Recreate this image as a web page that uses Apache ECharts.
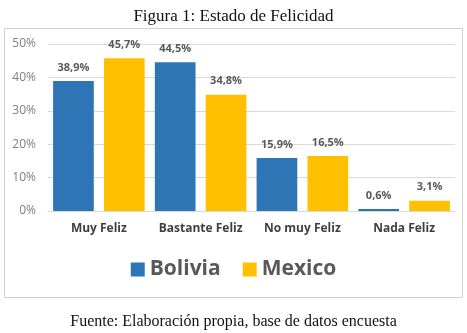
<!DOCTYPE html>
<html>
<head>
<meta charset="utf-8">
<script src="https://cdn.jsdelivr.net/npm/echarts@6/dist/echarts.min.js"></script>
<style>
  html, body {margin: 0; padding: 0; background: #fff;}
  #main {width: 467px; height: 333px;}
</style>
</head>
<body>
<div id="main"></div>
<script>
const categories = ['Muy Feliz', 'Bastante Feliz', 'No muy Feliz', 'Nada Feliz'];
const bolivia = [38.9, 44.5, 15.9, 0.6];
const mexico = [45.7, 34.8, 16.5, 3.1];

const chart = echarts.init(document.getElementById('main'));
const sans = '"Open Sans", "Liberation Sans", sans-serif';
const serif = '"Liberation Serif", "DejaVu Serif", serif';

const label = {
  show: true,
  position: 'top',
  distance: 8,
  color: '#595959',
  fontFamily: sans,
  fontWeight: 'bold',
  fontSize: 11,
  formatter: p => p.value.toFixed(1).replace('.', ',') + '%'
};

chart.setOption({
  animation: false,
  title: [{
    text: 'Figura 1: Estado de Felicidad',
    left: 'center',
    top: 3,
    textStyle: {fontFamily: serif, fontWeight: 'normal', fontSize: 17, color: '#111'}
  }, {
    text: 'Fuente: Elaboración propia, base de datos encuesta',
    left: 'center',
    top: 309,
    textStyle: {fontFamily: serif, fontWeight: 'normal', fontSize: 16, color: '#111'}
  }],
  graphic: [{
    type: 'rect',
    shape: {x: 4.5, y: 28.5, width: 458, height: 269},
    style: {fill: 'none', stroke: '#d0d0d0', lineWidth: 1}
  }],
  legend: {
    top: 254,
    left: 'center',
    itemWidth: 14,
    itemHeight: 14,
    itemGap: 22,
    icon: 'rect',
    textStyle: {fontFamily: sans, fontWeight: 'bold', fontSize: 21, color: '#595959'}
  },
  grid: {left: 48, right: 12, top: 44, bottom: 122},
  xAxis: {
    type: 'category',
    data: categories,
    axisTick: {show: false},
    axisLine: {lineStyle: {color: '#d9d9d9'}},
    axisLabel: {interval: 0, margin: 12, color: '#404040', fontFamily: sans, fontWeight: 'bold', fontSize: 12}
  },
  yAxis: {
    type: 'value',
    min: 0,
    max: 50,
    interval: 10,
    axisLabel: {color: '#7f7f7f', fontFamily: sans, fontSize: 12, margin: 12, formatter: v => v + '%'},
    splitLine: {lineStyle: {color: '#d9d9d9'}}
  },
  series: [{
    name: 'Bolivia',
    type: 'bar',
    data: bolivia,
    itemStyle: {color: '#2E75B6'},
    barGap: '25%',
    barCategoryGap: '10%',
    label: label
  }, {
    name: 'Mexico',
    type: 'bar',
    data: mexico,
    itemStyle: {color: '#FFC000'},
    label: label
  }]
});
</script>
</body>
</html>
